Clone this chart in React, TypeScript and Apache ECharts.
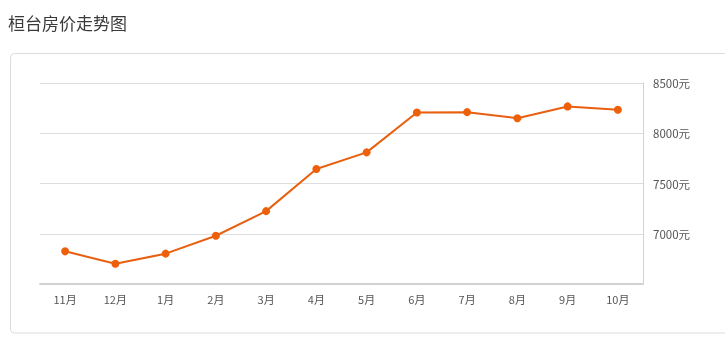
import React, { useEffect, useRef } from "react";
import * as echarts from "echarts";

const months = ["11月", "12月", "1月", "2月", "3月", "4月", "5月", "6月", "7月", "8月", "9月", "10月"];
const prices = [6825, 6702, 6802, 6980, 7225, 7645, 7810, 8207, 8210, 8150, 8267, 8234];
const title = "桓台房价走势图";
const unit = "元";

export default function App() {
  const ref = useRef<HTMLDivElement>(null);
  useEffect(() => {
    if (!ref.current) return;
    const chart = echarts.init(ref.current, undefined, { renderer: "svg" });
    const font = '"Noto Sans CJK SC", "Noto Sans", sans-serif';
    chart.setOption({
      animation: false,
      textStyle: { fontFamily: font },
      title: {
        text: title,
        left: 3,
        top: 9,
        textStyle: { fontSize: 17, fontWeight: "normal", color: "#3a3a3a", fontFamily: font },
      },
      graphic: [
        {
          type: "rect",
          shape: { x: 10.5, y: 53.5, width: 740, height: 279.5, r: 4 },
          style: { fill: "none", stroke: "#dcdcdc", lineWidth: 1 },
          z: -1,
        },
      ],
      grid: { left: 40, right: 82, top: 83, bottom: 66 },
      xAxis: {
        type: "category",
        data: months,
        boundaryGap: true,
        axisLine: { lineStyle: { color: "#d2d2d2", width: 2 } },
        axisTick: { alignWithLabel: true, length: 3, lineStyle: { color: "#e0e0e0" } },
        axisLabel: { color: "#555", fontSize: 11, margin: 9, fontFamily: font },
        splitLine: { show: false },
      },
      yAxis: {
        type: "value",
        position: "right",
        min: 6500,
        max: 8500,
        interval: 500,
        axisLine: { show: true, lineStyle: { color: "#d2d2d2", width: 1 } },
        axisTick: { show: false },
        axisLabel: {
          color: "#555",
          fontSize: 11.5,
          margin: 10,
          showMinLabel: false,
          formatter: (v: number) => String(v) + unit,
          fontFamily: font,
        },
        splitLine: { lineStyle: { color: "#dddddd", width: 1 } },
      },
      series: [
        {
          type: "line",
          data: prices,
          symbol: "circle",
          symbolSize: 8,
          lineStyle: { color: "#e8600f", width: 2 },
          itemStyle: { color: "#ee5f0a" },
        },
      ],
    });
    return () => chart.dispose();
  }, []);
  return <div ref={ref} style={{ position: "fixed", left: 0, top: 0, width: 725, height: 350 }} />;
}
